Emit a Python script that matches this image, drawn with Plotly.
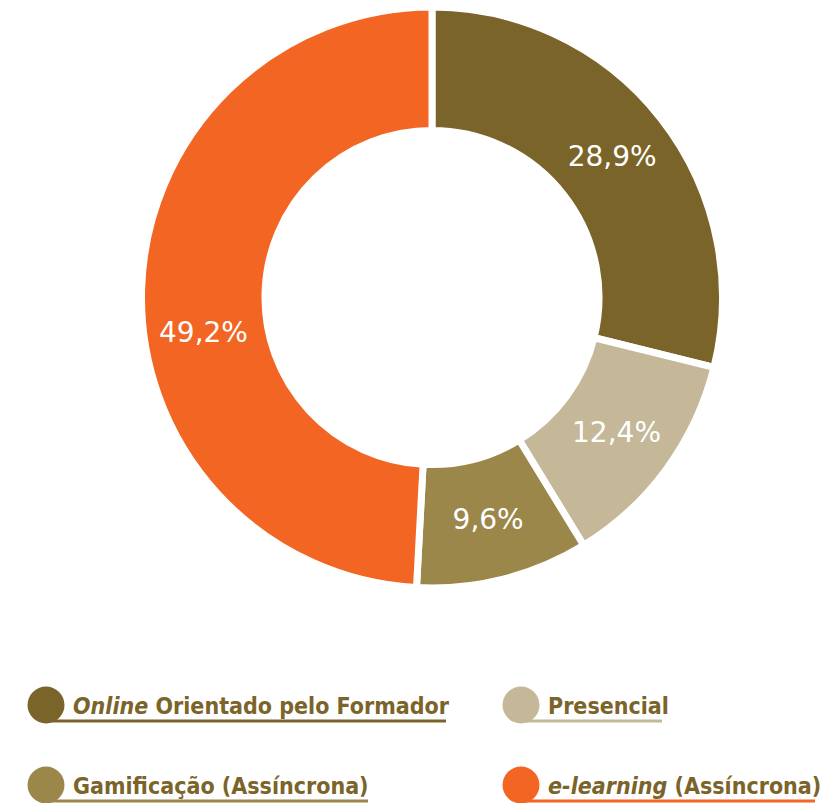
import plotly.graph_objects as go

# Distribution of training modalities
labels = ["<i>Online</i> Orientado pelo Formador", "Presencial",
          "Gamificação (Assíncrona)", "<i>e-learning</i> (Assíncrona)"]
values = [28.9, 12.4, 9.6, 49.2]
colors = ["#7B6429", "#C4B898", "#9B874A", "#F26522"]

W, H = 823, 803
TEXT_BROWN = "#7B6429"
LABEL_FONT = dict(color="white", size=28, family="DejaVu Sans")


def px(x):
    return x / W


def py(y):
    return 1 - y / H


def fmt(v):
    return f"{v:.1f}".replace(".", ",") + "%"


# The large slice carries its label a little lower than the slice centre
texts = [fmt(v) for v in values]
slice_text = texts[:3] + [""]

fig = go.Figure(go.Pie(
    labels=labels,
    values=values,
    text=slice_text,
    sort=False,
    direction="clockwise",
    rotation=0,
    hole=0.575,
    marker=dict(colors=colors, line=dict(color="white", width=7)),
    textinfo="text",
    textposition="inside",
    insidetextorientation="horizontal",
    insidetextfont=LABEL_FONT,
    showlegend=False,
    hoverinfo="label+value",
    domain=dict(x=[px(432 - 290.5), px(432 + 290.5)],
                y=[py(297.5 + 290.5), py(297.5 - 290.5)]),
))

annotations = [dict(text=texts[3], xref="paper", yref="paper",
                    x=px(203), y=py(332), xanchor="center", yanchor="middle",
                    showarrow=False, font=LABEL_FONT)]

# Custom legend: dot, label and an underline in each item's colour
legend_pos = [(46, 705), (521, 705), (46, 785), (521, 785)]
underline_end = [446, 662, 368, 815]
shapes = []
r = 18.5
for lab, col, (cx, cy), xe in zip(labels, colors, legend_pos, underline_end):
    ly = cy + 16
    shapes.append(dict(type="line", xref="paper", yref="paper",
                       x0=px(cx), x1=px(xe), y0=py(ly), y1=py(ly),
                       line=dict(color=col, width=3)))
    shapes.append(dict(type="circle", xref="paper", yref="paper",
                       x0=px(cx - r), x1=px(cx + r), y0=py(cy - r), y1=py(cy + r),
                       fillcolor=col, line=dict(width=0)))
    annotations.append(dict(text=lab, xref="paper", yref="paper",
                            x=px(cx + 25), y=py(cy + 1), xanchor="left", yanchor="middle",
                            showarrow=False,
                            font=dict(family="Liberation Sans Narrow, DejaVu Sans Condensed, Roboto Condensed, Liberation Sans",
                                      size=23, color=TEXT_BROWN, weight="bold")))

fig.update_layout(
    width=W, height=H,
    margin=dict(l=0, r=0, t=0, b=0),
    paper_bgcolor="white",
    plot_bgcolor="white",
    shapes=shapes,
    annotations=annotations,
)

fig.write_html("out.html")
